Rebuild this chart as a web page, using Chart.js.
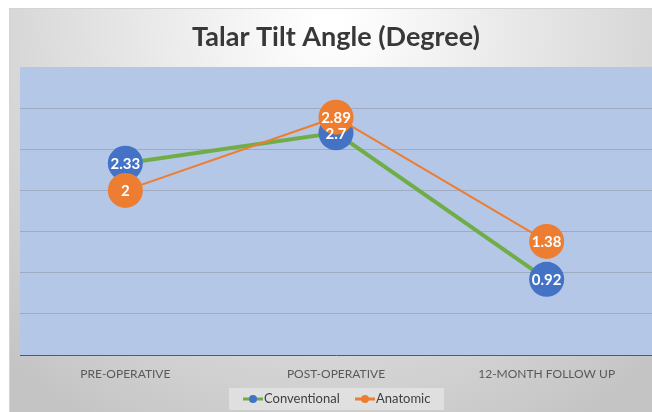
<!DOCTYPE html>
<html>
<head>
<meta charset="utf-8">
<script src="https://cdn.jsdelivr.net/npm/chart.js@4.4.0/dist/chart.umd.min.js"></script>
<style>
  html, body { margin: 0; padding: 0; background: #fff; }
  #wrap { width: 652px; height: 412px; }
</style>
</head>
<body>
<div id="wrap"><canvas id="talarChart" width="652" height="412"></canvas></div>
<script>
const categories = ["PRE-OPERATIVE", "POST-OPERATIVE", "12-MONTH FOLLOW UP"];
const conventional = [2.33, 2.7, 0.92];
const anatomic = [2, 2.89, 1.38];
const yTicks = [0, 0.5, 1, 1.5, 2, 2.5, 3, 3.5];

const FONT = "Lato, 'Open Sans', sans-serif";

// background, plot fill, title and legend drawn by hand (Excel look)
const excelLook = {
  id: "excelLook",
  beforeDraw(chart) {
    const ctx = chart.ctx;
    const area = chart.chartArea;
    ctx.save();
    ctx.fillStyle = "#ffffff";
    ctx.fillRect(0, 0, chart.width, chart.height);
    const g = ctx.createRadialGradient(330, 20, 10, 330, 20, 470);
    g.addColorStop(0, "#ffffff");
    g.addColorStop(1, "#c4c4c4");
    ctx.fillStyle = g;
    ctx.fillRect(9, 8, chart.width - 9, chart.height - 8);
    ctx.strokeStyle = "#d4d4d4";
    ctx.lineWidth = 1;
    ctx.strokeRect(9.5, 8.5, chart.width - 9, chart.height - 8);
    ctx.fillStyle = "#b4c7e7";
    ctx.fillRect(area.left, area.top, area.right - area.left, area.bottom - area.top);

    ctx.fillStyle = "#383838";
    ctx.font = "bold 27px " + FONT;
    ctx.textAlign = "center";
    ctx.textBaseline = "middle";
    ctx.fillText("Talar Tilt Angle (Degree)", 336, 37);
    ctx.restore();
  },
  afterDraw(chart) {
    const ctx = chart.ctx;
    ctx.save();
    ctx.fillStyle = "rgba(235,235,235,0.6)";
    ctx.fillRect(229, 388, 215, 22);
    const items = [
      { x: 243, text: "Conventional", line: "#70ad47", dot: "#4472c4" },
      { x: 355, text: "Anatomic", line: "#ed7d31", dot: "#ed7d31" }
    ];
    ctx.font = "13px " + FONT;
    ctx.textBaseline = "middle";
    ctx.textAlign = "left";
    items.forEach(it => {
      ctx.strokeStyle = it.line;
      ctx.lineWidth = 3;
      ctx.beginPath();
      ctx.moveTo(it.x, 399);
      ctx.lineTo(it.x + 20, 399);
      ctx.stroke();
      ctx.fillStyle = it.dot;
      ctx.beginPath();
      ctx.arc(it.x + 10, 399, 4, 0, Math.PI * 2);
      ctx.fill();
      ctx.fillStyle = "#404040";
      ctx.fillText(it.text, it.x + 21, 399);
    });
    ctx.restore();
  }
};

// value labels in the middle of each marker, above all markers
const pointLabels = {
  id: "pointLabels",
  afterDatasetsDraw(chart) {
    const ctx = chart.ctx;
    ctx.save();
    ctx.fillStyle = "#ffffff";
    ctx.font = "bold 15px " + FONT;
    ctx.textAlign = "center";
    ctx.textBaseline = "middle";
    chart.data.datasets.forEach((ds, i) => {
      const meta = chart.getDatasetMeta(i);
      meta.data.forEach((pt, j) => {
        ctx.fillText(String(ds.data[j]), pt.x, pt.y + 1);
      });
    });
    ctx.restore();
  }
};

new Chart(document.getElementById("talarChart").getContext("2d"), {
  type: "line",
  data: {
    labels: categories,
    datasets: [{
      label: "Conventional",
      data: conventional,
      borderColor: "#70ad47",
      borderWidth: 4,
      pointBackgroundColor: "#4472c4",
      pointBorderColor: "#4472c4",
      pointRadius: 17.5,
      pointBorderWidth: 0,
      tension: 0,
      order: 2
    }, {
      label: "Anatomic",
      data: anatomic,
      borderColor: "#ed7d31",
      borderWidth: 2,
      pointBackgroundColor: "#ed7d31",
      pointBorderColor: "#ed7d31",
      pointRadius: 17.5,
      pointBorderWidth: 0,
      tension: 0,
      order: 1
    }]
  },
  options: {
    responsive: false,
    animation: false,
    devicePixelRatio: 1,
    layout: { autoPadding: false, padding: { left: 20, top: 67, right: 0, bottom: 0 } },
    plugins: {
      legend: { display: false },
      title: { display: false },
      tooltip: { enabled: false }
    },
    scales: {
      y: {
        min: yTicks[0],
        max: yTicks[yTicks.length - 1],
        afterBuildTicks: scale => { scale.ticks = yTicks.map(v => ({ value: v })); },
        afterFit: scale => { scale.width = 0; },
        ticks: { display: false },
        border: { display: false },
        grid: {
          drawTicks: false,
          lineWidth: 1,
          color: c => (c.tick.value === 0 || c.tick.value === 3.5) ? "rgba(0,0,0,0)" : "#9eabc2"
        }
      },
      x: {
        offset: true,
        afterFit: scale => {
          scale.height = 57;
          scale.paddingLeft = 0;
          scale.paddingRight = 0;
        },
        border: { display: true, color: "#595959", width: 1 },
        grid: { display: false, drawTicks: false },
        ticks: {
          color: "#595959",
          padding: 12,
          maxRotation: 0,
          font: { family: FONT, size: 12 }
        }
      }
    }
  },
  plugins: [excelLook, pointLabels]
});
</script>
</body>
</html>
